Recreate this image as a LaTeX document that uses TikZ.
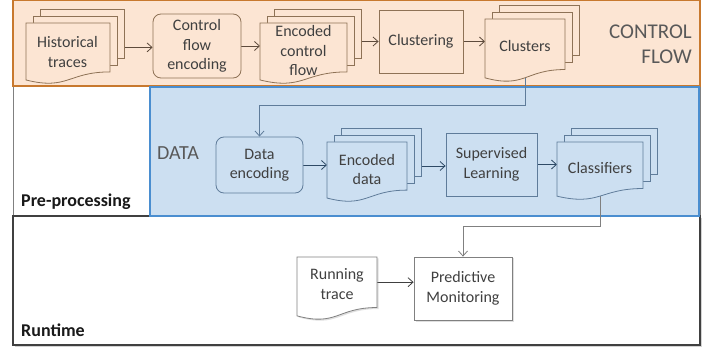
\documentclass[tikz,border=0pt]{standalone}
\usepackage{fontspec}
\setmainfont{Carlito}
\usetikzlibrary{arrows.meta,shadows}
\definecolor{peach}{HTML}{FCE5D3}
\definecolor{orangeb}{HTML}{C8792E}
\definecolor{bluef}{HTML}{CCDFF1}
\definecolor{blueb}{HTML}{4A8ED0}
\definecolor{tgray}{HTML}{404040}
\definecolor{brownb}{HTML}{8E7256}
\definecolor{slateb}{HTML}{5F7C9A}
\definecolor{graynb}{HTML}{808080}
\definecolor{lblgray}{HTML}{595959}
\definecolor{arrbrown}{HTML}{5E4B3C}
\definecolor{arrblue}{HTML}{2E4A66}
\pgfdeclarelayer{zones}
\pgfdeclarelayer{links}
\pgfsetlayers{zones,links,main}
\tikzset{
  docline/.style={line width=0.8pt},
  cfdoc/.style={fill=peach,draw=brownb},
  ddoc/.style={fill=bluef,draw=slateb},
  rdoc/.style={fill=white,draw=graynb,drop shadow={shadow xshift=1.5pt,shadow yshift=-1.5pt,opacity=0.25}},
  anchorbox/.style={inner sep=0pt,outer sep=0pt,draw=none,fill=none},
  txt/.style={font=\fontsize{16}{19.5}\selectfont,text=tgray,align=center,inner sep=0pt},
  procbox/.style={line width=0.8pt,font=\fontsize{16}{19.5}\selectfont,text=tgray,align=center,inner sep=0pt},
  cfbox/.style={procbox,fill=peach,draw=brownb},
  dbox/.style={procbox,fill=bluef,draw=slateb},
  rbox/.style={procbox,fill=white,draw=graynb,drop shadow={shadow xshift=1.5pt,shadow yshift=-1.5pt,opacity=0.25}},
  arrtop/.style={draw=arrbrown,line width=0.8pt,-{Straight Barb[length=5pt,width=9pt]}},
  arrdata/.style={draw=arrblue,line width=0.8pt,-{Straight Barb[length=5pt,width=9pt]}},
  linkcl/.style={draw=slateb,line width=0.8pt,-{Straight Barb[length=5pt,width=9pt]}},
  linkrt/.style={draw=graynb,line width=0.8pt,-{Straight Barb[length=5pt,width=9pt]}},
  arrrt/.style={draw=tgray,line width=0.8pt,-{Straight Barb[length=5pt,width=9pt]}}
}
\newcommand\onedoc[5][]{%
  \filldraw[docline,#1] (#2,#3) -- (#4,#3) -- (#4,{#3+0.802*#5})
    .. controls ({(#2+#4)/2},{#3+0.802*#5}) and ({(#2+#4)/2},{#3+1.107*#5}) .. (#2,{#3+0.934*#5}) -- cycle;}
\newcommand\stackdoc[6][]{%
  \filldraw[docline,#1] ({#3+14},{#4-14}) rectangle ({#5+14},{#4+0.802*#6-14});
  \filldraw[docline,#1] ({#3+7},{#4-7}) rectangle ({#5+7},{#4+0.802*#6-7});
  \onedoc[#1]{#3}{#4}{#5}{#6}
  \node[anchorbox,minimum width={(#5+14-#3)*1pt},minimum height={0.8*#6*1pt}] (#2) at ({(#3+#5+14)/2},{#4+0.4*#6}) {};}
\begin{document}
\begin{tikzpicture}[x=1pt,y=-1pt]
\useasboundingbox (0,0) rectangle (713,350);

% ---- zones
\begin{pgfonlayer}{zones}
  \filldraw[fill=white,draw=graynb,line width=0.8pt] (13,0.5) rectangle (700,216);
  \filldraw[fill=white,draw=tgray,line width=1.3pt,drop shadow={shadow xshift=2pt,shadow yshift=-2pt,opacity=0.35}] (13,216) rectangle (700,345);
  \filldraw[fill=peach,draw=orangeb,line width=1.5pt] (13,0.75) rectangle (700,86);
  \filldraw[fill=bluef,draw=blueb,line width=1.5pt] (150,87) rectangle (699,216);
\end{pgfonlayer}

% ---- zone labels
\node[font=\fontsize{21}{25}\selectfont,text=lblgray,align=right,anchor=east,inner sep=0pt] (cflbl) at (692,44.5) {CONTROL\\FLOW};
\node[font=\fontsize{20}{24}\selectfont,text=lblgray,anchor=west,inner sep=0pt] (datalbl) at (157,153) {DATA};
\node[font=\bfseries\fontsize{18}{22}\selectfont,text=black!90,anchor=west,inner sep=0pt] (prelbl) at (21,202) {Pre-processing};
\node[font=\bfseries\fontsize{18}{22}\selectfont,text=black!90,anchor=west,inner sep=0pt] (rtlbl) at (21,330) {Runtime};

% ---- control flow row
\stackdoc[cfdoc]{hist}{26}{23}{110}{61}
\node[txt] (histt) at (67.5,52) {Historical\\traces};
\node[cfbox,rounded corners=8pt,minimum width=88pt,minimum height=64pt] (cfe) at (197,46) {Control\\flow\\encoding};
\stackdoc[cfdoc]{enccf}{260}{23}{347}{61}
\node[txt] (enccft) at (303.5,51) {Encoded\\control\\flow};
\node[cfbox,minimum width=84pt,minimum height=63pt] (clustering) at (421,41.5) {Clustering};
\stackdoc[cfdoc]{clusters}{485}{19}{565}{63}
\node[txt] (clusterst) at (525,46) {Clusters};

% ---- data row
\node[dbox,rounded corners=8pt,minimum width=87pt,minimum height=56pt] (dataenc) at (259.5,165) {Data\\encoding};
\stackdoc[ddoc]{encdata}{327}{142}{407}{60}
\node[txt] (encdatat) at (367,169.5) {Encoded\\data};
\node[dbox,minimum width=91pt,minimum height=63pt] (sup) at (491.5,164.5) {Supervised\\Learning};
\stackdoc[ddoc]{classif}{557}{142}{643}{58}
\node[txt] (classift) at (600,168) {Classifiers};

% ---- runtime row
\onedoc[rdoc]{297}{257}{377}{63}
\node[anchorbox,minimum width=80pt,minimum height=50.4pt] (running) at (337,282.2) {};
\node[txt] (runningt) at (337,284) {Running\\trace};
\node[rbox,minimum width=98pt,minimum height=63pt] (pm) at (463,288.5) {Predictive\\Monitoring};

% ---- connectors
\begin{pgfonlayer}{links}
  \draw[arrtop] (hist.east) -- (hist.east -| cfe.west);
  \draw[arrtop] (cfe.east) -- (cfe.east -| enccf.west);
  \draw[arrtop] (clustering.west -| enccf.east) -- (clustering.west);
  \draw[arrtop] (clustering.east) -- (clustering.east -| clusters.west);
  \draw[linkcl] (clusterst.center) -- ++(0,59) -| (dataenc.north);
  \draw[arrdata] (dataenc.east) -- (dataenc.east -| encdata.west);
  \draw[arrdata] (encdata.east) -- (encdata.east -| sup.west);
  \draw[arrdata] (sup.east) -- (sup.east -| classif.west);
  \draw[linkrt] (classift.center) -- ++(0,58) -| (pm.north);
  \draw[arrrt] (running.east) -- (running.east -| pm.west);
\end{pgfonlayer}
\end{tikzpicture}
\end{document}
